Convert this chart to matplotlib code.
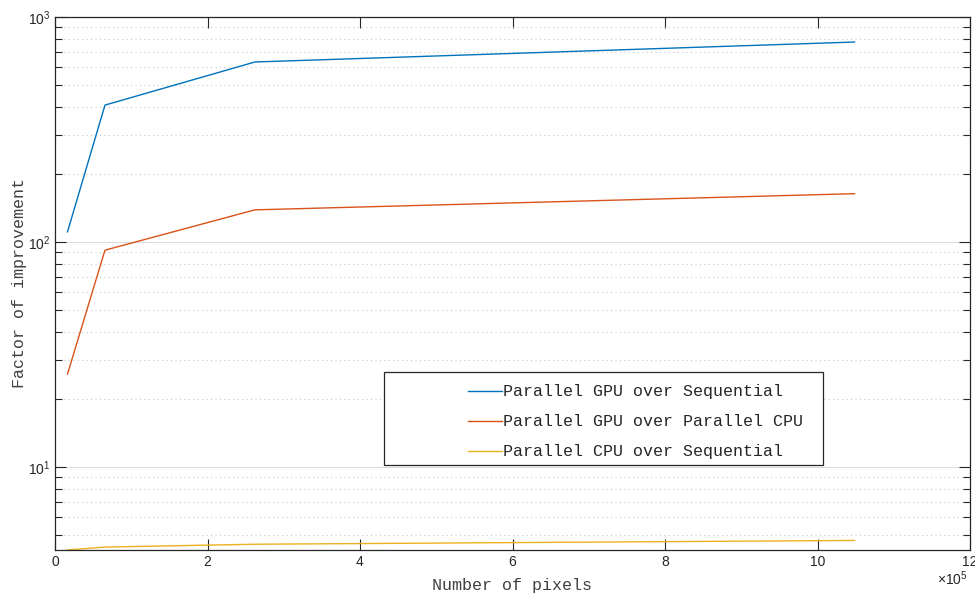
import numpy as np
import matplotlib.pyplot as plt
from matplotlib.ticker import FuncFormatter, MultipleLocator, LogLocator
from matplotlib.patches import Rectangle

plt.rcParams['mathtext.fontset'] = 'custom'
plt.rcParams['mathtext.rm'] = 'Liberation Sans'
plt.rcParams['mathtext.it'] = 'Liberation Sans'

# image sizes 128^2 .. 1024^2
pixels = [16384, 65536, 262144, 1048576]
gpu_vs_seq = [111, 406, 631, 774]
gpu_vs_cpu = [25.9, 92, 139, 164]
cpu_vs_seq = [4.28, 4.41, 4.54, 4.72]

labels = ["Parallel GPU over Sequential",
          "Parallel GPU over Parallel CPU",
          "Parallel CPU over Sequential"]
colors = ['#0072BD', '#D95319', '#EDB120']

axcol = '#262626'
mono = 'Liberation Mono'

fig = plt.figure(figsize=(9.75, 5.94), dpi=100)
ax = fig.add_axes([55/975, 44/594, 915/975, 533/594])

for yv, lab, c in zip([gpu_vs_seq, gpu_vs_cpu, cpu_vs_seq], labels, colors):
    ax.plot(pixels, yv, color=c, lw=1.0, label=lab)

ax.set_yscale('log')
ax.set_xlim(0, 1.2e6)
ax.set_ylim(min(cpu_vs_seq), 1000)

ax.xaxis.set_major_locator(MultipleLocator(2e5))
ax.xaxis.set_major_formatter(FuncFormatter(lambda v, p: f"{v/1e5:g}"))
ax.yaxis.set_major_locator(LogLocator(base=10))
ax.yaxis.set_minor_locator(LogLocator(base=10, subs=np.arange(2, 10)))

ax.grid(True, which='major', axis='y', color='#dcdcdc', lw=0.8, ls='-')
ax.grid(True, which='minor', axis='y', color='#c8c8c8', lw=0.8, ls=(0, (1, 3)))
ax.set_axisbelow(True)

ax.tick_params(which='major', direction='in', length=8, width=0.8, color=axcol,
               top=True, right=True, labelsize=10, labelcolor=axcol)
ax.tick_params(which='minor', direction='in', length=5, width=0.8, color=axcol,
               top=False, right=True)
ax.tick_params(axis='x', which='minor', bottom=False, top=False)
for lab in ax.get_xticklabels() + ax.get_yticklabels():
    lab.set_fontfamily('Liberation Sans')
for s in ax.spines.values():
    s.set_color(axcol)
    s.set_linewidth(0.9)

ax.set_xlabel("Number of pixels", fontfamily=mono, fontsize=12, color='#404040')
ax.set_ylabel("Factor of improvement", fontfamily=mono, fontsize=12, color='#404040')
ax.xaxis.set_label_coords(0.5, -0.052)
ax.yaxis.set_label_coords(-0.031, 0.5)
ax.text(0.997, -0.036, r"$\times10^5$", transform=ax.transAxes, ha='right', va='top',
        fontsize=10, color=axcol)

# legend frame (MATLAB leaves blank room on the left)
ax.add_patch(Rectangle((329/915, (550-465)/533), 439/915, 93/533, transform=ax.transAxes,
                       facecolor='white', edgecolor=axcol, lw=0.9, zorder=5))
leg = ax.legend(loc='upper left', bbox_to_anchor=(400/915, (550-371)/533), frameon=False,
                prop={'family': mono, 'size': 12}, handlelength=2.0, handletextpad=0.1,
                labelspacing=0.9, borderpad=0.3)
leg.set_zorder(6)
for t in leg.get_texts():
    t.set_color(axcol)

fig.savefig('out.png', dpi=100)
